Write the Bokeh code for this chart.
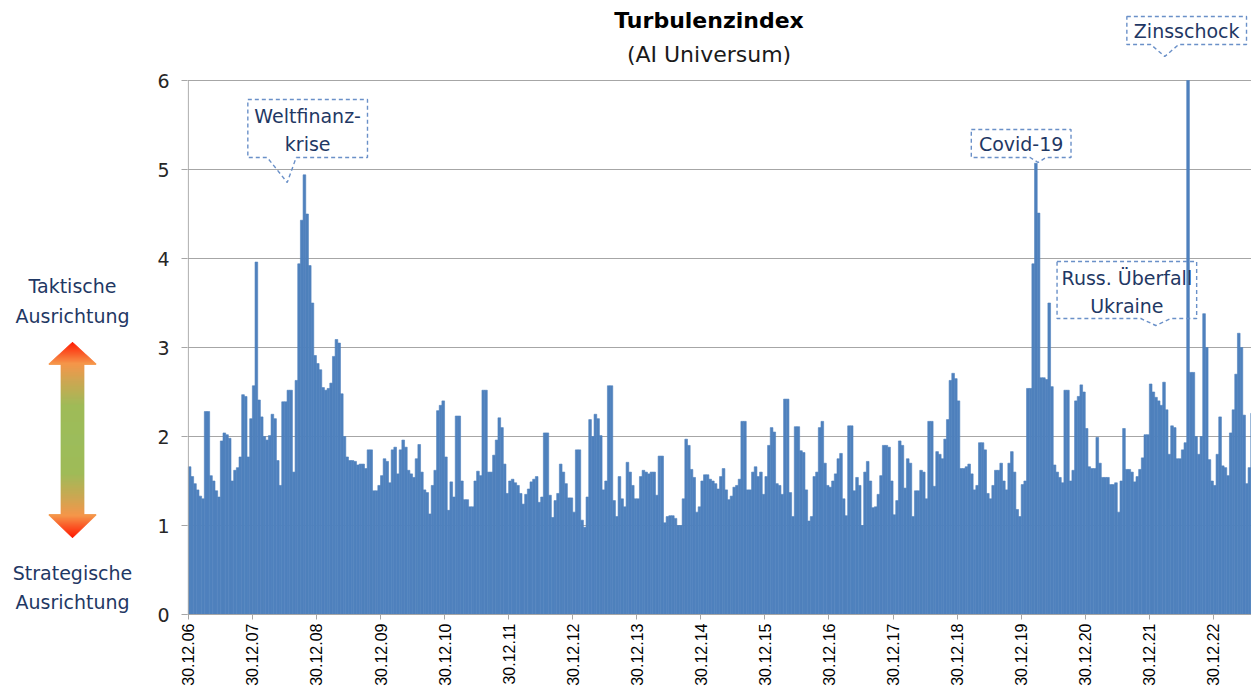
import math
from bokeh.plotting import figure
from bokeh.layouts import row
from bokeh.models import Range1d, FixedTicker
from bokeh.core.properties import value
from bokeh.embed import file_html
from bokeh.resources import INLINE

# ---------------- data ----------------
title = "Turbulenzindex"
subtitle = "(AI Universum)"
xtick_labels = ["30.12.06", "30.12.07", "30.12.08", "30.12.09", "30.12.10", "30.12.11",
                "30.12.12", "30.12.13", "30.12.14", "30.12.15", "30.12.16", "30.12.17",
                "30.12.18", "30.12.19", "30.12.20", "30.12.21", "30.12.22"]
ytick_values = [0, 1, 2, 3, 4, 5, 6]
periods_per_year = 24  # half-monthly readings starting 30.12.2006

v2007 = [1.66, 1.55, 1.47, 1.40, 1.33, 1.30, 2.28, 2.28, 1.56, 1.50, 1.39, 1.32,
         1.95, 2.04, 2.02, 1.98, 1.50, 1.62, 1.65, 1.77, 2.47, 2.45, 1.77, 2.20]
v2008 = [2.57, 3.96, 2.41, 2.22, 2.00, 1.96, 2.01, 2.25, 2.20, 1.73, 1.45, 2.39,
         2.39, 2.52, 2.52, 1.60, 2.63, 3.94, 4.43, 4.94, 4.50, 3.92, 3.50, 2.91]
v2009 = [2.82, 2.75, 2.55, 2.52, 2.54, 2.60, 2.90, 3.09, 3.05, 2.48, 2.00, 1.77,
         1.73, 1.73, 1.72, 1.68, 1.69, 1.69, 1.64, 1.85, 1.85, 1.39, 1.39, 1.45]
v2010 = [1.56, 1.75, 1.72, 1.48, 1.85, 1.88, 1.58, 1.85, 1.96, 1.88, 1.62, 1.58,
         1.54, 1.75, 1.91, 1.60, 1.40, 1.37, 1.13, 1.45, 1.62, 2.29, 2.35, 2.40]
v2011 = [1.77, 1.17, 1.49, 1.32, 2.23, 2.23, 1.50, 1.29, 1.29, 1.21, 1.21, 1.50,
         1.61, 1.56, 2.52, 2.52, 1.60, 1.60, 1.79, 1.96, 2.21, 2.10, 1.69, 1.36]
v2012 = [1.50, 1.52, 1.48, 1.45, 1.36, 1.24, 1.35, 1.41, 1.49, 1.52, 1.55, 1.26,
         1.32, 2.04, 2.04, 1.34, 1.09, 1.28, 1.36, 1.69, 1.60, 1.47, 1.31, 1.31]
v2013 = [1.15, 1.85, 1.85, 1.06, 0.98, 1.32, 2.19, 2.00, 2.25, 2.20, 2.01, 1.40,
         1.50, 2.57, 2.57, 1.28, 1.10, 1.55, 1.30, 1.21, 1.71, 1.60, 1.45, 1.30]
v2014 = [1.30, 1.55, 1.62, 1.60, 1.58, 1.60, 1.60, 1.34, 1.78, 1.78, 1.03, 1.10,
         1.11, 1.11, 1.08, 1.00, 1.00, 1.30, 1.97, 1.90, 1.63, 1.54, 1.15, 1.21]
v2015 = [1.50, 1.57, 1.57, 1.52, 1.50, 1.47, 1.41, 1.55, 1.64, 1.40, 1.29, 1.33,
         1.43, 1.45, 1.52, 2.17, 2.17, 1.40, 1.40, 1.60, 1.66, 1.55, 1.60, 1.35]
v2016 = [1.55, 1.90, 2.10, 2.05, 1.47, 1.45, 1.35, 2.42, 2.42, 1.37, 1.10, 2.11,
         2.11, 1.84, 1.82, 1.40, 1.05, 1.10, 1.55, 1.60, 2.10, 2.17, 1.70, 1.45]
v2017 = [1.43, 1.50, 1.58, 1.75, 1.81, 1.30, 1.11, 2.12, 2.12, 1.39, 1.54, 1.45,
         1.00, 1.60, 1.72, 1.50, 1.20, 1.21, 1.35, 1.56, 1.90, 1.90, 1.88, 1.50]
v2018 = [1.12, 1.28, 1.95, 1.90, 1.42, 1.75, 1.70, 1.10, 1.39, 1.39, 1.62, 1.60,
         1.30, 2.17, 2.17, 1.44, 1.83, 1.80, 1.75, 1.97, 2.19, 2.63, 2.71, 2.65]
v2019 = [2.40, 1.64, 1.64, 1.66, 1.69, 1.58, 1.40, 1.45, 1.93, 1.93, 1.85, 1.36,
         1.30, 1.45, 1.62, 1.62, 1.70, 1.50, 1.40, 1.70, 1.83, 1.60, 1.18, 1.10]
v2020 = [1.46, 1.50, 2.54, 2.54, 3.94, 5.07, 4.51, 2.66, 2.66, 2.64, 3.50, 2.56,
         1.68, 1.60, 1.54, 1.48, 2.52, 2.52, 1.50, 1.62, 2.40, 2.45, 2.58, 2.50]
v2021 = [2.09, 1.66, 1.64, 1.64, 1.99, 1.70, 1.54, 1.54, 1.54, 1.46, 1.46, 1.48,
         1.15, 1.50, 2.09, 1.63, 1.63, 1.60, 1.49, 1.55, 1.63, 1.76, 2.02, 2.02]
v2022 = [2.59, 2.50, 2.44, 2.40, 2.35, 2.61, 2.30, 1.80, 2.12, 2.10, 1.75, 1.75,
         1.85, 1.93, 6.00, 2.72, 2.72, 2.00, 1.80, 2.00, 3.38, 3.00, 1.74, 1.50]
v2023 = [1.45, 1.80, 2.22, 1.67, 1.65, 1.56, 2.04, 2.30, 2.70, 3.16, 3.00, 2.24,
         1.47, 1.65, 2.26]

yearly = [v2007, v2008, v2009, v2010, v2011, v2012, v2013, v2014, v2015, v2016,
          v2017, v2018, v2019, v2020, v2021, v2022, v2023]
values = [v for yr in yearly for v in yr]
t_start = [i / periods_per_year for i in range(len(values))]
t_center = [t + 0.5 / periods_per_year for t in t_start]

# ---------------- layout constants (page pixels) ----------------
PX0, PX_PER_YEAR = 184.8, 64.25
PY0, PY_PER_UNIT = 614.0, 89.0
LEFT_W, TOTAL_W, TOTAL_H = 154, 1251, 690
FRAME_L = 184


def tx(px):
    return (px - PX0) / PX_PER_YEAR


def vy(py):
    return (PY0 - py) / PY_PER_UNIT


FONT = "DejaVu Sans"
NAVY = "#1f3864"
BAR = "#4f81bd"
GRID = "#a6a6a6"
BOTTOM_BORDER = TOTAL_H - int(PY0)

# ---------------- main chart ----------------
p = figure(width=TOTAL_W - LEFT_W, height=TOTAL_H, output_backend="svg",
           toolbar_location=None,
           x_range=Range1d(tx(FRAME_L), tx(TOTAL_W)), y_range=Range1d(0, vy(0)),
           min_border_left=FRAME_L - LEFT_W, min_border_right=0, min_border_top=0,
           min_border_bottom=BOTTOM_BORDER)
p.outline_line_color = None
p.background_fill_color = "white"
p.border_fill_color = "white"

p.xgrid.visible = False
p.ygrid.ticker = FixedTicker(ticks=ytick_values)
p.ygrid.grid_line_color = GRID
p.ygrid.grid_line_width = 1

p.yaxis.ticker = FixedTicker(ticks=ytick_values)
p.yaxis.axis_line_color = None
p.yaxis.major_tick_line_color = GRID
p.yaxis.major_tick_out = 6
p.yaxis.major_tick_in = 0
p.yaxis.minor_tick_line_color = None
p.yaxis.major_label_standoff = 12
p.yaxis.major_label_text_font = FONT
p.yaxis.major_label_text_font_size = "19px"
p.yaxis.major_label_text_color = "#262626"

p.xaxis.ticker = FixedTicker(ticks=list(range(len(xtick_labels))))
p.xaxis.major_label_overrides = {i: lab for i, lab in enumerate(xtick_labels)}
p.xaxis.major_label_orientation = math.pi / 2
p.xaxis.axis_line_color = GRID
p.xaxis.major_tick_line_color = GRID
p.xaxis.major_tick_out = 5
p.xaxis.major_tick_in = 0
p.xaxis.minor_tick_line_color = None
p.xaxis.major_label_standoff = 4
p.xaxis.major_label_text_font = "Liberation Sans"
p.xaxis.major_label_text_font_size = "16px"
p.xaxis.major_label_text_color = "black"

p.vbar(x=t_center, width=1 / periods_per_year, top=values, bottom=0,
       fill_color=BAR, line_color=BAR, line_width=0.6)
# y axis line from 0 to the top tick
p.segment(x0=[0], y0=[ytick_values[0]], x1=[0], y1=[ytick_values[-1]],
          line_color=GRID, line_width=1)

# titles
p.text(x=[tx(707)], y=[vy(20)], text=[title], text_font=value(FONT),
       text_font_size="22px", text_font_style="bold", text_color="black",
       text_align="center", text_baseline="middle")
p.text(x=[tx(707)], y=[vy(54)], text=[subtitle], text_font=value(FONT),
       text_font_size="22px", text_color="#1a1a1a",
       text_align="center", text_baseline="middle")

# callouts: box (l, t, r, b), pointer (x1, tipx, tipy, x2), text lines
callouts = [
    dict(box=(244.5, 99, 364.5, 157), ptr=(264, 284, 182, 293),
         lines=[("Weltfinanz-", 304.5, 115), ("krise", 304.5, 143)]),
    dict(box=(970, 129, 1070, 157), ptr=(1029, 1037, 162, 1045),
         lines=[("Covid-19", 1020, 143)]),
    dict(box=(1056, 261, 1196, 318), ptr=(1140, 1155, 325, 1170),
         lines=[("Russ. Überfall", 1126, 277), ("Ukraine", 1126, 305)]),
    dict(box=(1126, 16, 1246, 44), ptr=(1150, 1164, 56, 1178),
         lines=[("Zinsschock", 1186, 30)]),
]
for c in callouts:
    l, t, r, b = c["box"]
    x1, tipx, tipy, x2 = c["ptr"]
    xs = [l, r, r, x2, tipx, x1, l]
    ys = [t, t, b, b, tipy, b, b]
    p.patch(x=[tx(x) for x in xs], y=[vy(y) for y in ys], fill_color=None,
            line_color="#6a90c8", line_width=1.4, line_dash="4 3")
    for txt, cx, cy in c["lines"]:
        p.text(x=[tx(cx)], y=[vy(cy)], text=[txt], text_font=value(FONT),
               text_font_size="19px", text_color=NAVY,
               text_align="center", text_baseline="middle")

# ---------------- left panel (frame aligned with the main frame) ----------------
lp = figure(width=LEFT_W, height=TOTAL_H, output_backend="svg", toolbar_location=None,
            x_range=Range1d(0, LEFT_W), y_range=Range1d(PY0, 0),
            x_axis_location=None, y_axis_location=None,
            min_border_left=0, min_border_right=0, min_border_top=0,
            min_border_bottom=BOTTOM_BORDER)
lp.outline_line_color = None
lp.grid.visible = False
lp.background_fill_color = "white"
lp.border_fill_color = "white"

stops = [(0.0, (155, 187, 89)), (0.35, (158, 186, 86)), (0.6, (205, 165, 80)),
         (0.78, (245, 148, 72)), (1.0, (255, 25, 0))]


def grad(f):
    for (f0, c0), (f1, c1) in zip(stops[:-1], stops[1:]):
        if f <= f1:
            k = (f - f0) / (f1 - f0) if f1 > f0 else 0
            c = [round(a + (b_ - a) * k) for a, b_ in zip(c0, c1)]
            return "#%02x%02x%02x" % tuple(c)
    return "#%02x%02x%02x" % stops[-1][1]


ax_c, tip_top, head_top_base, head_bot_base, tip_bot = 72, 342, 364, 514, 537
mid = (tip_top + tip_bot) / 2
half = (tip_bot - tip_top) / 2
lefts, rights, tops, bottoms, cols = [], [], [], [], []
y = tip_top
while y < tip_bot:
    ym = y + 0.5
    if ym < head_top_base:
        hw = 24 * (ym - tip_top) / (head_top_base - tip_top)
    elif ym > head_bot_base:
        hw = 24 * (tip_bot - ym) / (tip_bot - head_bot_base)
    else:
        hw = 11.5
    lefts.append(ax_c - hw)
    rights.append(ax_c + hw)
    tops.append(y)
    bottoms.append(y + 1)
    cols.append(grad(min(1.0, abs(ym - mid) / half)))
    y += 1
lp.quad(left=lefts, right=rights, top=tops, bottom=bottoms,
        fill_color=cols, line_color=cols, line_width=0.8)

for txt, cy in [("Taktische", 285), ("Ausrichtung", 315),
                ("Strategische", 572), ("Ausrichtung", 601)]:
    lp.text(x=[72], y=[cy], text=[txt], text_font=value(FONT),
            text_font_size="19px", text_color=NAVY,
            text_align="center", text_baseline="middle")

layout = row(lp, p)
open("out.html", "w").write(file_html(layout, INLINE))
